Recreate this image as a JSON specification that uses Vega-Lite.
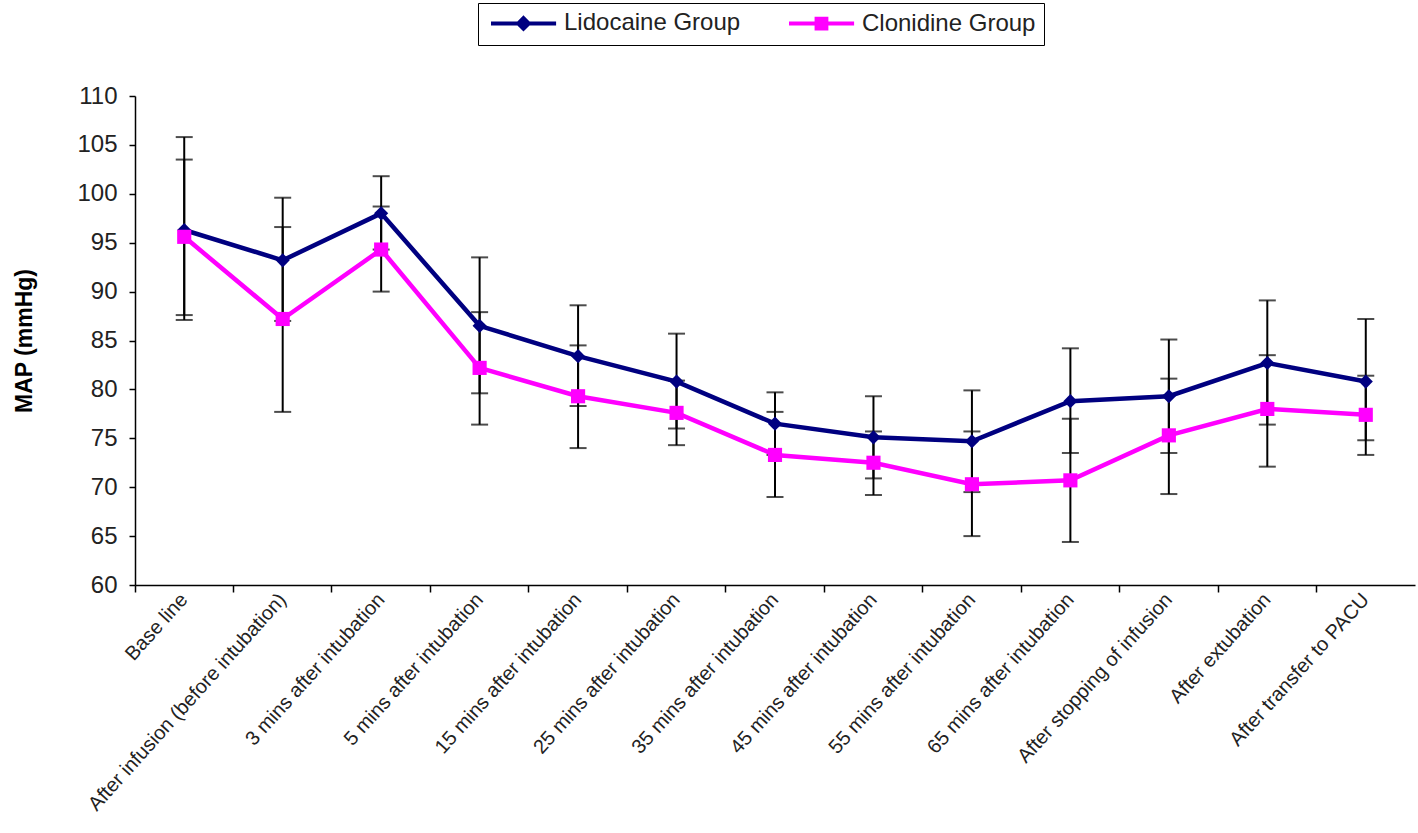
{
  "$schema": "https://vega.github.io/schema/vega-lite/v6.json",
  "autosize": {"type": "none"},
  "padding": {"left": 135, "top": 96, "right": 3, "bottom": 248},
  "width": 1280,
  "height": 489,
  "background": "white",
  "config": {
    "font": "Liberation Sans",
    "view": {"stroke": null},
    "axis": {"domainColor": "#000", "tickColor": "#000", "labelColor": "#222", "titleColor": "#000", "domainWidth": 1.5, "tickWidth": 1.5, "grid": false}
  },
  "data": {
    "values": [
      {"time": "Base line", "group": "Lidocaine Group", "mean": 96.3, "lo": 87.1, "hi": 105.8},
      {"time": "After infusion (before intubation)", "group": "Lidocaine Group", "mean": 93.2, "lo": 87.0, "hi": 99.6},
      {"time": "3 mins after intubation", "group": "Lidocaine Group", "mean": 98.0, "lo": 94.3, "hi": 101.8},
      {"time": "5 mins after intubation", "group": "Lidocaine Group", "mean": 86.5, "lo": 79.6, "hi": 93.5},
      {"time": "15 mins after intubation", "group": "Lidocaine Group", "mean": 83.4, "lo": 78.3, "hi": 88.6},
      {"time": "25 mins after intubation", "group": "Lidocaine Group", "mean": 80.8, "lo": 76.0, "hi": 85.7},
      {"time": "35 mins after intubation", "group": "Lidocaine Group", "mean": 76.5, "lo": 73.3, "hi": 79.7},
      {"time": "45 mins after intubation", "group": "Lidocaine Group", "mean": 75.1, "lo": 70.9, "hi": 79.3},
      {"time": "55 mins after intubation", "group": "Lidocaine Group", "mean": 74.7, "lo": 69.5, "hi": 79.9},
      {"time": "65 mins after intubation", "group": "Lidocaine Group", "mean": 78.8, "lo": 73.5, "hi": 84.2},
      {"time": "After   stopping  of infusion", "group": "Lidocaine Group", "mean": 79.3, "lo": 73.5, "hi": 85.1},
      {"time": "After extubation", "group": "Lidocaine Group", "mean": 82.7, "lo": 76.4, "hi": 89.1},
      {"time": "After transfer to  PACU", "group": "Lidocaine Group", "mean": 80.8, "lo": 74.8, "hi": 87.2},
      {"time": "Base line", "group": "Clonidine Group", "mean": 95.6, "lo": 87.6, "hi": 103.5},
      {"time": "After infusion (before intubation)", "group": "Clonidine Group", "mean": 87.2, "lo": 77.7, "hi": 96.6},
      {"time": "3 mins after intubation", "group": "Clonidine Group", "mean": 94.3, "lo": 90.0, "hi": 98.7},
      {"time": "5 mins after intubation", "group": "Clonidine Group", "mean": 82.2, "lo": 76.4, "hi": 87.9},
      {"time": "15 mins after intubation", "group": "Clonidine Group", "mean": 79.3, "lo": 74.0, "hi": 84.5},
      {"time": "25 mins after intubation", "group": "Clonidine Group", "mean": 77.6, "lo": 74.3, "hi": 80.9},
      {"time": "35 mins after intubation", "group": "Clonidine Group", "mean": 73.3, "lo": 69.0, "hi": 77.7},
      {"time": "45 mins after intubation", "group": "Clonidine Group", "mean": 72.5, "lo": 69.2, "hi": 75.7},
      {"time": "55 mins after intubation", "group": "Clonidine Group", "mean": 70.3, "lo": 65.0, "hi": 75.7},
      {"time": "65 mins after intubation", "group": "Clonidine Group", "mean": 70.7, "lo": 64.4, "hi": 77.0},
      {"time": "After   stopping  of infusion", "group": "Clonidine Group", "mean": 75.3, "lo": 69.3, "hi": 81.1},
      {"time": "After extubation", "group": "Clonidine Group", "mean": 78.0, "lo": 72.1, "hi": 83.5},
      {"time": "After transfer to  PACU", "group": "Clonidine Group", "mean": 77.4, "lo": 73.3, "hi": 81.4}
    ]
  },
  "encoding": {
    "x": {
      "field": "time", "type": "nominal",
      "scale": {"type": "band", "paddingInner": 0, "paddingOuter": 0,
        "domain": ["Base line", "After infusion (before intubation)", "3 mins after intubation", "5 mins after intubation", "15 mins after intubation", "25 mins after intubation", "35 mins after intubation", "45 mins after intubation", "55 mins after intubation", "65 mins after intubation", "After   stopping  of infusion", "After extubation", "After transfer to  PACU"]},
      "axis": {"title": null, "labelAngle": -48, "labelFontSize": 20, "bandPosition": 0, "tickSize": 7, "labelPadding": 4, "labelLimit": 400}
    }
  },
  "layer": [
    {
      "mark": {"type": "rule", "color": "#000", "strokeWidth": 2},
      "encoding": {
        "y": {"field": "lo", "type": "quantitative", "scale": {"domain": [60, 110], "nice": false, "zero": false},
          "axis": {"title": "MAP  (mmHg)", "titleFontSize": 23, "titleFontWeight": "bold", "titlePadding": 40, "values": [60, 65, 70, 75, 80, 85, 90, 95, 100, 105, 110], "labelFontSize": 24, "tickSize": 6, "labelPadding": 12}},
        "y2": {"field": "hi"}
      }
    },
    {
      "mark": {"type": "tick", "color": "#000", "size": 17, "thickness": 2, "orient": "horizontal"},
      "encoding": {"y": {"field": "lo", "type": "quantitative"}}
    },
    {
      "mark": {"type": "tick", "color": "#000", "size": 17, "thickness": 2, "orient": "horizontal"},
      "encoding": {"y": {"field": "hi", "type": "quantitative"}}
    },
    {
      "transform": [{"filter": "datum.group === 'Lidocaine Group'"}],
      "mark": {"type": "line", "color": "#000080", "strokeWidth": 4.5},
      "encoding": {"y": {"field": "mean", "type": "quantitative"}}
    },
    {
      "transform": [{"filter": "datum.group === 'Lidocaine Group'"}],
      "mark": {"type": "point", "shape": "diamond", "filled": true, "color": "#000080", "opacity": 1, "size": 200},
      "encoding": {"y": {"field": "mean", "type": "quantitative"}}
    },
    {
      "transform": [{"filter": "datum.group === 'Clonidine Group'"}],
      "mark": {"type": "line", "color": "#FF00FF", "strokeWidth": 4.5},
      "encoding": {"y": {"field": "mean", "type": "quantitative"}}
    },
    {
      "transform": [{"filter": "datum.group === 'Clonidine Group'"}],
      "mark": {"type": "point", "shape": "square", "filled": true, "color": "#FF00FF", "opacity": 1, "size": 200},
      "encoding": {"y": {"field": "mean", "type": "quantitative"}}
    },
    {
      "transform": [{"filter": "false"}],
      "mark": {"type": "point", "filled": true, "strokeWidth": 4, "opacity": 1},
      "encoding": {
        "y": {"field": "mean", "type": "quantitative"},
        "color": {"field": "group", "type": "nominal",
          "scale": {"domain": ["Lidocaine Group", "Clonidine Group"], "range": ["#000080", "#FF00FF"]},
          "legend": {"title": null, "orient": "none", "legendX": 343, "legendY": -93, "direction": "horizontal",
            "strokeColor": "#000", "padding": 8, "labelFontSize": 24, "labelColor": "#222", "labelOffset": 54, "labelLimit": 400,
            "symbolSize": 196, "symbolStrokeWidth": 4, "columnPadding": 40}},
        "stroke": {"field": "group", "type": "nominal",
          "scale": {"domain": ["Lidocaine Group", "Clonidine Group"], "range": ["#000080", "#FF00FF"]},
          "legend": {"title": null}},
        "shape": {"field": "group", "type": "nominal",
          "scale": {"domain": ["Lidocaine Group", "Clonidine Group"],
            "range": ["M-1,0L8.3,0M3.64,-0.75L4.39,0L3.64,0.75L2.89,0Z", "M-1,0L8.3,0M2.94,-0.7L4.34,-0.7L4.34,0.7L2.94,0.7Z"]},
          "legend": {"title": null}}
      }
    }
  ]
}
